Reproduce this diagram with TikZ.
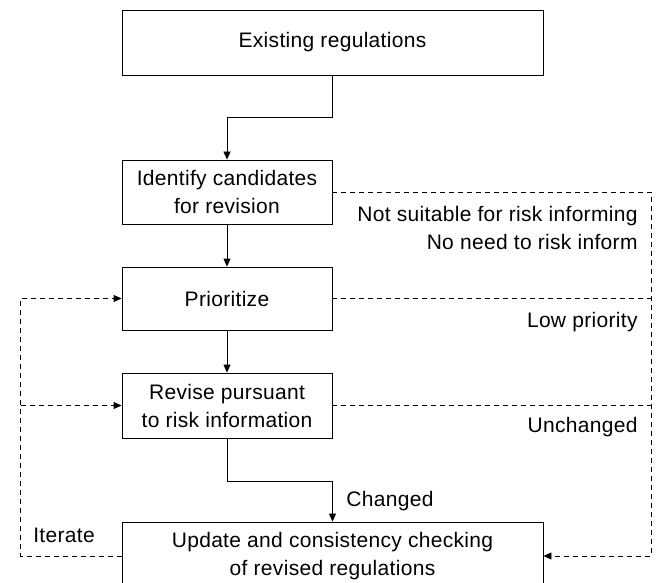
\documentclass[tikz,border=0pt]{standalone}
\usepackage{fontspec}
\setmainfont{Liberation Sans}[LetterSpace=1.5]
\usepackage{tikz}
\usetikzlibrary{arrows}
\usetikzlibrary{calc,arrows.meta}

\begin{document}
\begin{tikzpicture}[x=1pt,y=-1pt,line width=.9pt,
	font=\fontsize{21pt}{28pt}\selectfont,
	box/.style={draw,rectangle,align=center,inner sep=0pt},
	flow/.style={-{Triangle[length=8pt,width=7pt]}},
	back/.style={dash pattern=on 5pt off 4pt},
	lbl/.style={align=right,inner sep=0pt}]
	\useasboundingbox (0,0) rectangle (656,583);
	%boxes of the main column placed by hand
	\node[box,minimum width=421,minimum height=65] (ex) at (332.5,42.5){Existing regulations};
	\node[box,minimum width=210,minimum height=64] (ident) at (227,192){Identify candidates\\for revision};
	\node[box,minimum width=210,minimum height=63] (prio) at (227,298.5){Prioritize};
	\node[box,minimum width=210,minimum height=65] (rev) at (227,405.5){Revise pursuant\\to risk information};
	\node[box,minimum width=421,minimum height=68] (upd) at (332.5,556){Update and consistency checking\\of revised regulations};

	%% bend points of the connectors
	\coordinate (k1) at (332.5,117);
	\coordinate (k2) at (227,481);
	\coordinate (rt) at (651,192);
	\coordinate (lf) at (20.5,556);

	\draw[flow] (ex.south)--(k1)-|(ident.north);
	\draw[flow] (ident.south)--(prio.north);
	\draw[flow] (prio.south)--(rev.north);
	\draw[flow] (rev.south)--(k2)-|(upd.north);

	%% dashed lines on the right
	\draw[back,flow] (ident.east)--(rt)|-(upd.east);
	\draw[back] (prio.east)--(prio.east-|rt);
	\draw[back] (rev.east)--(rev.east-|rt);
	%% dashed loop on the left
	\draw[back,flow] (upd.west)--(lf)|-(prio.west);
	\draw[back,flow] (lf|-rev.west)--(rev.west);

	\node[lbl,anchor=east] (nsuit) at (638,227.5){Not suitable for risk informing\\No need to risk inform};
	\node[lbl,anchor=east] (low) at (638,322){Low priority};
	\node[lbl,anchor=east] (unch) at (638,427){Unchanged};
	\node[lbl,anchor=west] (chg) at (346,501){Changed};
	\node[lbl] (iter) at (64,535){Iterate};
\end{tikzpicture}
\end{document}
